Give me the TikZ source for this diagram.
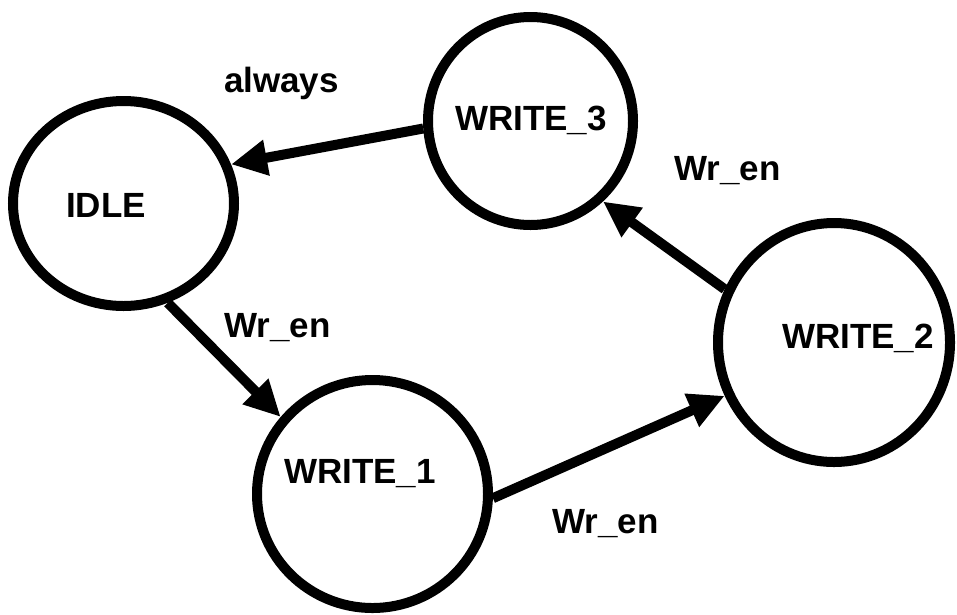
\documentclass[tikz,border=0pt]{standalone}
\usepackage{fontspec}
\setmainfont{Liberation Sans}
\usetikzlibrary{arrows.meta,shapes.geometric}
\begin{document}
\begin{tikzpicture}[x=1pt,y=-1pt,
  state/.style={draw,ellipse,line width=10pt,inner sep=0pt},
  txt/.style={font=\fontsize{35}{42}\selectfont\bfseries,anchor=base,inner sep=0pt},
  trans/.style={line width=10pt,-{Triangle[length=36pt,width=34pt]}}]
\useasboundingbox (0,0) rectangle (957,614);

% states
\node[state,minimum width=221pt,minimum height=205pt] (idle) at (123.5,203.5) {};
\node[state,minimum width=205pt,minimum height=208pt] (w3) at (530.5,121) {};
\node[state,minimum width=232pt,minimum height=239pt] (w2) at (834,342.5) {};
\node[state,minimum width=231pt,minimum height=228pt] (w1) at (372.5,494) {};

% state names
\node[txt] (idlename) at (106,217) {IDLE};
\node[txt] (w3name) at (531,130) {WRITE\_3};
\node[txt] (w2name) at (858,348) {WRITE\_2};
\node[txt] (w1name) at (360,483) {WRITE\_1};

% transitions
\draw[trans] (w3.184) -- (idle.20);
\draw[trans] (idle.-66) -- (w1.140);
\draw[trans] (w1.-2) -- (w2.206);
\draw[trans] (w2.154) -- (w3.-48);

% transition conditions
\node[txt] (lalways) at (281.5,92) {always};
\node[txt] (lwr1) at (277.5,337) {Wr\_en};
\node[txt] (lwr2) at (605.5,533) {Wr\_en};
\node[txt] (lwr3) at (727.5,180) {Wr\_en};
\end{tikzpicture}
\end{document}
